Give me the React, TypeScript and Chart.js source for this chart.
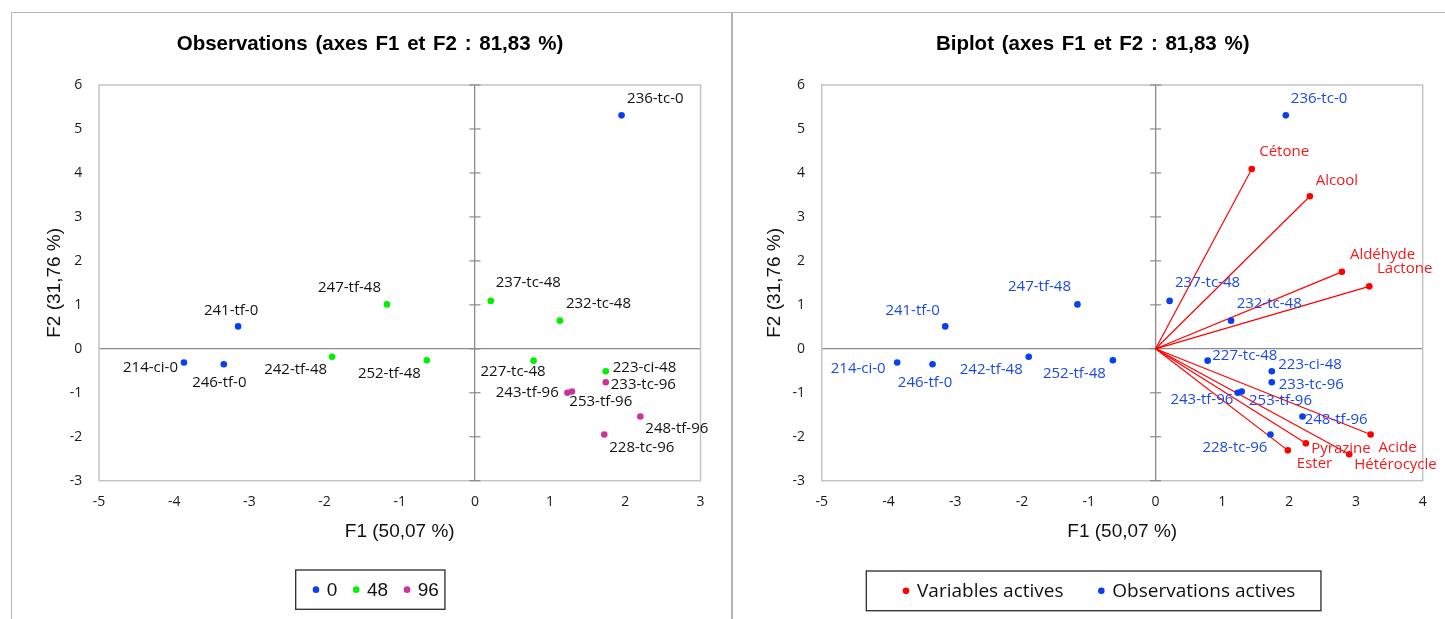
import React, { useEffect, useRef } from "react";
import { Chart, registerables } from "chart.js";

Chart.register(...registerables);

// ---------------- data ----------------
const titleLeft = "Observations (axes F1 et F2 : 81,83 %)";
const titleRight = "Biplot (axes F1 et F2 : 81,83 %)";
const xAxisTitle = "F1 (50,07 %)";
const yAxisTitle = "F2 (31,76 %)";

const obsNames = [
  "214-ci-0", "246-tf-0", "241-tf-0", "236-tc-0",
  "247-tf-48", "242-tf-48", "252-tf-48", "237-tc-48", "232-tc-48", "227-tc-48", "223-ci-48",
  "233-tc-96", "243-tf-96", "253-tf-96", "248-tf-96", "228-tc-96",
];
const obsF1 = [-3.87, -3.34, -3.15, 1.95, -1.17, -1.9, -0.64, 0.21, 1.13, 0.78, 1.74, 1.74, 1.23, 1.29, 2.2, 1.72];
const obsF2 = [-0.31, -0.35, 0.51, 5.31, 1.01, -0.18, -0.26, 1.09, 0.64, -0.27, -0.51, -0.76, -1.0, -0.97, -1.54, -1.95];
const obsGroup = ["0", "0", "0", "0", "48", "48", "48", "48", "48", "48", "48", "96", "96", "96", "96", "96"];
const groupNames = ["0", "48", "96"];

const varNames = ["Cétone", "Alcool", "Aldéhyde", "Lactone", "Acide", "Hétérocycle", "Pyrazine", "Ester"];
const varF1 = [1.44, 2.31, 2.79, 3.2, 3.22, 2.9, 2.25, 1.98];
const varF2 = [4.09, 3.47, 1.75, 1.42, -1.95, -2.4, -2.15, -2.31];

const legendRight = ["Variables actives", "Observations actives"];

const yRange = [-3, 6];
const xRangeLeft = [-5, 3];
const xRangeRight = [-5, 4];

// ---------------- styles ----------------
const groupColors: Record<string, string> = { "0": "#0a3ff0", "48": "#00f000", "96": "#cc3399" };
const BLUE = "#0a3ff0";
const BLUE_TEXT = "#1a4ae6";
const RED = "#ff0000";
const RED_TEXT = "#f21a1a";
const LABEL_FONT = '15px "Open Sans"';
const TICK_FONT = { family: "Open Sans", size: 14 };
const AXIS_TITLE_FONT = { family: "Liberation Sans", size: 19 };

type LP = [number, number, CanvasTextAlign];
const leftLabelPos: Record<string, LP> = {
  "214-ci-0": [-6, 5.6, "right"],
  "246-tf-0": [-4.5, 19, "center"],
  "241-tf-0": [-7, -16, "center"],
  "236-tc-0": [5.5, -17, "left"],
  "247-tf-48": [-6, -17, "right"],
  "242-tf-48": [-5, 13, "right"],
  "252-tf-48": [-6, 14, "right"],
  "237-tc-48": [5, -18, "left"],
  "232-tc-48": [6, -17, "left"],
  "227-tc-48": [12, 11, "right"],
  "223-ci-48": [7, -3, "left"],
  "233-tc-96": [5, 3, "left"],
  "243-tf-96": [-8.7, 0, "right"],
  "253-tf-96": [-2.6, 10, "left"],
  "248-tf-96": [5, 12.5, "left"],
  "228-tc-96": [5, 13, "left"],
};
const rightLabelPos: Record<string, LP> = {
  "241-tf-0": [-5.5, -16, "right"],
  "247-tf-48": [-6.5, -17.7, "right"],
  "214-ci-0": [-11.5, 6, "right"],
  "246-tf-0": [-7.5, 19, "center"],
  "242-tf-48": [-6, 13.3, "right"],
  "252-tf-48": [-7, 14, "right"],
  "237-tc-48": [5.4, -18, "left"],
  "232-tc-48": [5.6, -17.4, "left"],
  "236-tc-0": [5, -17, "left"],
  "227-tc-48": [4.6, -4.7, "left"],
  "223-ci-48": [6.5, -6, "left"],
  "233-tc-96": [7, 3, "left"],
  "243-tf-96": [-4.4, 7, "right"],
  "253-tf-96": [7.3, 9, "left"],
  "248-tf-96": [2.2, 3.5, "left"],
  "228-tc-96": [-3, 13, "right"],
  "Cétone": [7.5, -17, "left"],
  "Alcool": [6, -16, "left"],
  "Aldéhyde": [8, -17.6, "left"],
  "Lactone": [7.7, -17.7, "left"],
  "Acide": [8, 13, "left"],
  "Hétérocycle": [5, 10.7, "left"],
  "Pyrazine": [5.4, 5, "left"],
  "Ester": [9, 13.6, "left"],
};

// ---------------- plugins ----------------
const pointLabelPlugin = {
  id: "pointLabels",
  afterDatasetsDraw(chart: any) {
    const ctx = chart.ctx;
    chart.data.datasets.forEach((ds: any, di: number) => {
      if (!ds.names) return;
      const meta = chart.getDatasetMeta(di);
      ctx.save();
      ctx.font = LABEL_FONT;
      ctx.fillStyle = ds.labelColor;
      ctx.textBaseline = "middle";
      meta.data.forEach((el: any, i: number) => {
        const name = ds.names[i];
        const [dx, dy, align] = ds.labelPos[name] || [5, -15, "left"];
        ctx.textAlign = align;
        ctx.fillText(name, el.x + dx, el.y + dy);
      });
      ctx.restore();
    });
  },
};

const framePlugin = {
  id: "frame",
  beforeDatasetsDraw(chart: any) {
    const ctx = chart.ctx;
    const { left, right, top, bottom } = chart.chartArea;
    ctx.save();
    ctx.strokeStyle = "#c4c4c4";
    ctx.lineWidth = 1.5;
    ctx.strokeRect(left, top, right - left, bottom - top);
    const x0 = chart.scales.x.getPixelForValue(0);
    ctx.strokeStyle = "#8a8a8a";
    ctx.lineWidth = 1.2;
    chart.scales.y.ticks.forEach((t: any) => {
      const y = chart.scales.y.getPixelForValue(t.value);
      ctx.beginPath();
      ctx.moveTo(x0 - 5.5, y);
      ctx.lineTo(x0 + 5.5, y);
      ctx.stroke();
    });
    // rays from origin for datasets flagged
    const y0 = chart.scales.y.getPixelForValue(0);
    chart.data.datasets.forEach((ds: any, di: number) => {
      if (!ds.rays) return;
      const meta = chart.getDatasetMeta(di);
      ctx.strokeStyle = ds.backgroundColor;
      ctx.lineWidth = 1.2;
      meta.data.forEach((el: any) => {
        ctx.beginPath();
        ctx.moveTo(x0, y0);
        ctx.lineTo(el.x, el.y);
        ctx.stroke();
      });
    });
    ctx.restore();
  },
};

function makeTitlePlugin(text: string, x: number, y: number) {
  return {
    id: "panelTitle",
    afterDraw(chart: any) {
      const ctx = chart.ctx;
      ctx.save();
      ctx.font = 'bold 20.5px "Liberation Sans"';
      (ctx as any).wordSpacing = "2px";
      ctx.fillStyle = "#000";
      ctx.textAlign = "center";
      ctx.textBaseline = "middle";
      ctx.fillText(text, x, y);
      ctx.restore();
    },
  };
}

type LegendOpts = {
  left: number; top: number; height: number; leftPad: number; rightPad: number;
  dotGap: number; itemGap: number; font: string; labels: string[]; colors: string[];
};
function makeLegendPlugin(o: LegendOpts) {
  return {
    id: "boxLegend",
    afterDraw(chart: any) {
      const ctx = chart.ctx;
      ctx.save();
      ctx.font = o.font;
      const widths = o.labels.map((l) => ctx.measureText(l).width);
      let w = o.leftPad + o.rightPad;
      widths.forEach((tw, i) => { w += o.dotGap + tw + (i < widths.length - 1 ? o.itemGap : 0); });
      ctx.strokeStyle = "#2a2a2a";
      ctx.lineWidth = 1.3;
      ctx.strokeRect(o.left, o.top, w, o.height);
      const cy = o.top + o.height / 2;
      let x = o.left + o.leftPad;
      o.labels.forEach((l, i) => {
        ctx.fillStyle = o.colors[i];
        ctx.beginPath();
        ctx.arc(x, cy, 3.3, 0, Math.PI * 2);
        ctx.fill();
        ctx.fillStyle = "#111";
        ctx.textAlign = "left";
        ctx.textBaseline = "middle";
        ctx.fillText(l, x + o.dotGap, cy + 1);
        x += o.dotGap + widths[i] + o.itemGap;
      });
      ctx.restore();
    },
  };
}

function scales(xr: number[], yWidth: number, yTitlePad: number) {
  return {
    x: {
      type: "linear",
      min: xr[0],
      max: xr[1],
      ticks: {
        stepSize: 1, font: TICK_FONT, color: "#1a1a1a", padding: 13.2,
        maxRotation: 0, autoSkip: false, callback: (v: any) => String(v),
      },
      grid: {
        drawTicks: false,
        color: (c: any) => (c.tick && c.tick.value === 0 ? "#8a8a8a" : "rgba(0,0,0,0)"),
        lineWidth: 1.3,
      },
      border: { display: false },
      title: { display: true, text: xAxisTitle, font: AXIS_TITLE_FONT, color: "#111", padding: { top: 0, bottom: 7.6 } },
      afterFit: (s: any) => { s.height = 70; },
    },
    y: {
      type: "linear",
      min: yRange[0],
      max: yRange[1],
      ticks: {
        stepSize: 1, font: TICK_FONT, color: "#1a1a1a", padding: 16.7,
        autoSkip: false, callback: (v: any) => String(v),
      },
      grid: {
        drawTicks: false,
        color: (c: any) => (c.tick && c.tick.value === 0 ? "#8a8a8a" : "rgba(0,0,0,0)"),
        lineWidth: 1.3,
      },
      border: { display: false },
      title: { display: true, text: yAxisTitle, font: AXIS_TITLE_FONT, color: "#111", padding: { top: yTitlePad, bottom: 0 } },
      afterFit: (s: any) => { s.width = yWidth; },
    },
  };
}

function leftConfig(): any {
  const datasets = groupNames.map((g) => {
    const idx = obsNames.map((_, i) => i).filter((i) => obsGroup[i] === g);
    return {
      label: g,
      data: idx.map((i) => ({ x: obsF1[i], y: obsF2[i] })),
      names: idx.map((i) => obsNames[i]),
      labelPos: leftLabelPos,
      labelColor: "#111",
      backgroundColor: groupColors[g],
      borderWidth: 0,
      pointRadius: 3.3,
    };
  });
  return {
    type: "scatter",
    data: { datasets },
    options: {
      animation: false,
      responsive: true,
      maintainAspectRatio: false,
      layout: { padding: { top: 72, right: 30.5, bottom: 68.3, left: 0 } },
      plugins: { legend: { display: false }, tooltip: { enabled: false } },
      scales: scales(xRangeLeft, 88, 32.6),
    },
    plugins: [
      framePlugin,
      pointLabelPlugin,
      makeTitlePlugin(titleLeft, 359, 31),
      makeLegendPlugin({
        left: 284.7, top: 557, height: 39.3, leftPad: 20.3, rightPad: 6, dotGap: 10.7, itemGap: 19,
        font: '19px "Liberation Sans"', labels: groupNames, colors: groupNames.map((g) => groupColors[g]),
      }),
    ],
  };
}

function rightConfig(): any {
  const datasets = [
    {
      label: legendRight[0],
      data: varNames.map((_, i) => ({ x: varF1[i], y: varF2[i] })),
      names: varNames,
      labelPos: rightLabelPos,
      labelColor: RED_TEXT,
      backgroundColor: RED,
      borderWidth: 0,
      pointRadius: 3.3,
      rays: true,
    },
    {
      label: legendRight[1],
      data: obsNames.map((_, i) => ({ x: obsF1[i], y: obsF2[i] })),
      names: obsNames,
      labelPos: rightLabelPos,
      labelColor: BLUE_TEXT,
      backgroundColor: BLUE,
      borderWidth: 0,
      pointRadius: 3.3,
    },
  ];
  return {
    type: "scatter",
    data: { datasets },
    options: {
      animation: false,
      responsive: true,
      maintainAspectRatio: false,
      layout: { padding: { top: 72, right: 22.3, bottom: 68.3, left: 0 } },
      plugins: { legend: { display: false }, tooltip: { enabled: false } },
      scales: scales(xRangeRight, 89.7, 31.6),
    },
    plugins: [
      framePlugin,
      pointLabelPlugin,
      makeTitlePlugin(titleRight, 360.7, 31),
      makeLegendPlugin({
        left: 134.3, top: 558, height: 39.7, leftPad: 39.7, rightPad: 25.6, dotGap: 11, itemGap: 37.8,
        font: '19px "Open Sans"', labels: legendRight, colors: [RED, BLUE],
      }),
    ],
  };
}

function ChartBox({ make, style }: { make: () => any; style: React.CSSProperties }) {
  const ref = useRef<HTMLCanvasElement>(null);
  useEffect(() => {
    const chart = new Chart(ref.current as HTMLCanvasElement, make());
    return () => chart.destroy();
  }, []);
  return (
    <div style={{ position: "absolute", ...style }}>
      <canvas ref={ref} />
    </div>
  );
}

export default function App() {
  return (
    <div style={{ position: "fixed", left: 0, top: 0, width: 1445, height: 619, background: "#fff", overflow: "hidden" }}>
      <ChartBox make={leftConfig} style={{ left: 11, top: 13, width: 720, height: 606 }} />
      <ChartBox make={rightConfig} style={{ left: 732, top: 13, width: 713, height: 606 }} />
      <div style={{ position: "absolute", left: 11, top: 12, width: 721, height: 700, border: "1px solid #b5b5b5", boxSizing: "border-box", pointerEvents: "none" }} />
      <div style={{ position: "absolute", left: 732, top: 12, width: 800, height: 700, border: "1px solid #b5b5b5", boxSizing: "border-box", pointerEvents: "none" }} />
    </div>
  );
}
